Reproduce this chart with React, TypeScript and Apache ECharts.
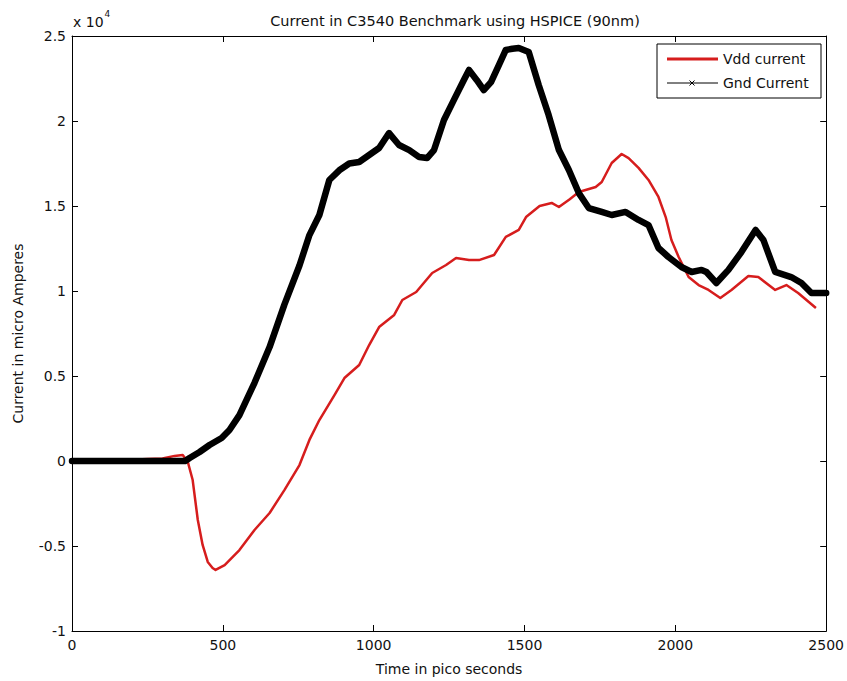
import React, { useEffect, useRef } from "react";
import * as echarts from "echarts";

// Time samples (ps) and supply currents (µA) for the C3540 benchmark
const gndTime = [0, 200, 375, 390, 423, 456, 496, 522, 555, 605, 655, 704, 754, 787, 820, 853, 886, 919, 952, 985, 1018, 1051, 1084, 1118, 1151, 1177, 1200, 1233, 1266, 1299, 1316, 1342, 1365, 1389, 1415, 1438, 1460, 1481, 1514, 1547, 1580, 1614, 1647, 1680, 1713, 1756, 1789, 1835, 1878, 1911, 1944, 1977, 2020, 2054, 2087, 2103, 2136, 2176, 2219, 2266, 2292, 2331, 2384, 2418, 2451, 2500];
const gndCurrent = [0, 0, 0, 180, 530, 940, 1350, 1820, 2700, 4600, 6700, 9200, 11500, 13290, 14470, 16530, 17100, 17500, 17590, 18000, 18410, 19290, 18590, 18290, 17880, 17820, 18290, 20060, 21240, 22410, 23000, 22400, 21820, 22290, 23290, 24180, 24250, 24290, 24060, 22120, 20350, 18290, 17120, 15760, 14880, 14650, 14470, 14650, 14180, 13880, 12530, 12000, 11410, 11120, 11240, 11120, 10470, 11240, 12290, 13590, 13000, 11120, 10820, 10470, 9880, 9880];

const vddTime = [0, 150, 200, 250, 300, 340, 367, 384, 400, 417, 433, 450, 466, 476, 506, 555, 605, 655, 704, 754, 787, 820, 870, 903, 952, 985, 1018, 1068, 1095, 1141, 1194, 1240, 1273, 1316, 1349, 1399, 1438, 1481, 1505, 1550, 1590, 1614, 1650, 1680, 1736, 1756, 1789, 1822, 1845, 1878, 1911, 1944, 1968, 1987, 2011, 2044, 2077, 2110, 2149, 2186, 2242, 2275, 2331, 2368, 2407, 2466];
const vddCurrent = [0, 0, 80, 120, 150, 300, 350, -60, -1120, -3470, -4940, -5940, -6290, -6410, -6120, -5240, -4060, -3060, -1710, -240, 1240, 2410, 3880, 4880, 5650, 6820, 7880, 8590, 9470, 9940, 11060, 11530, 11940, 11820, 11820, 12120, 13180, 13590, 14350, 15000, 15180, 14940, 15400, 15820, 16120, 16410, 17530, 18060, 17820, 17240, 16530, 15530, 14350, 13000, 12000, 10820, 10350, 10060, 9590, 10060, 10880, 10820, 10060, 10350, 9880, 9000];

const seriesNames = ["Vdd current", "Gnd Current"];
const chartTitle = "Current in C3540 Benchmark using HSPICE (90nm)";
const xLabel = "Time in pico seconds";
const yLabel = "Current in micro Amperes";

const FONT = "DejaVu Sans";
const RED = "#d61d1d";

const zip = (xs: number[], ys: number[]) => xs.map((x, i) => [x, ys[i]]);

export default function App() {
  const ref = useRef<HTMLDivElement>(null);

  useEffect(() => {
    document.body.style.margin = "0";
    const chart = echarts.init(ref.current!, null, { renderer: "svg" });

    const axisLine = { show: true, onZero: false, lineStyle: { color: "#000", width: 1 } };
    const tick = { show: true, inside: true, length: 6, lineStyle: { color: "#000" } };
    const label = { color: "#111", fontFamily: FONT, fontSize: 14 };

    chart.setOption({
      animation: false,
      backgroundColor: "#fff",
      title: {
        text: chartTitle,
        left: 450,
        top: 8,
        textAlign: "center",
        textStyle: { fontFamily: FONT, fontSize: 14.5, fontWeight: "normal", color: "#111" },
      },
      grid: { left: 72, right: 19, top: 36, bottom: 50 },
      xAxis: [
        {
          type: "value",
          min: 0,
          max: 2500,
          interval: 500,
          axisLine,
          axisTick: tick,
          splitLine: { show: false },
          axisLabel: { ...label, margin: 7, formatter: (v: number) => String(v) },
          name: xLabel,
          nameLocation: "middle",
          nameGap: 31,
          nameTextStyle: { ...label },
        },
        {
          type: "value",
          position: "top",
          min: 0,
          max: 2500,
          interval: 500,
          axisLine,
          axisTick: tick,
          splitLine: { show: false },
          axisLabel: { show: false },
        },
      ],
      yAxis: [
        {
          type: "value",
          min: -10000,
          max: 25000,
          interval: 5000,
          axisLine,
          axisTick: tick,
          splitLine: { show: false },
          axisLabel: { ...label, margin: 6, formatter: (v: number) => String(v / 10000) },
          name: yLabel,
          nameLocation: "middle",
          nameGap: 47,
          nameTextStyle: { ...label },
        },
        {
          type: "value",
          position: "right",
          min: -10000,
          max: 25000,
          interval: 5000,
          axisLine,
          axisTick: tick,
          splitLine: { show: false },
          axisLabel: { show: false },
        },
      ],
      series: [
        {
          name: seriesNames[0],
          type: "line",
          data: zip(vddTime, vddCurrent),
          showSymbol: false,
          lineStyle: { color: RED, width: 2.5, join: "round" },
          z: 2,
        },
        {
          name: seriesNames[1],
          type: "line",
          data: zip(gndTime, gndCurrent),
          showSymbol: false,
          lineStyle: { color: "#000", width: 6.5, join: "round", cap: "round" },
          z: 3,
        },
      ],
      graphic: [
        // axis exponent
        {
          type: "text",
          left: 73,
          top: 9,
          style: {
            text: "{b|x 10}{s|4}",
            rich: {
              b: { fontFamily: FONT, fontSize: 14, fill: "#111", verticalAlign: "bottom", lineHeight: 20 },
              s: { fontFamily: FONT, fontSize: 9, fill: "#111", verticalAlign: "top", lineHeight: 20, padding: [0, 0, 8, 1] },
            },
          },
        },
        // legend box
        {
          type: "rect",
          shape: { x: 657, y: 44, width: 164, height: 54 },
          style: { fill: "#fff", stroke: "#000", lineWidth: 1 },
          z: 10,
        },
        {
          type: "line",
          shape: { x1: 667, y1: 59, x2: 718, y2: 59 },
          style: { stroke: RED, lineWidth: 3 },
          z: 11,
        },
        {
          type: "line",
          shape: { x1: 667, y1: 83, x2: 718, y2: 83 },
          style: { stroke: "#000", lineWidth: 1 },
          z: 11,
        },
        {
          type: "line",
          shape: { x1: 689.5, y1: 80.5, x2: 694.5, y2: 85.5 },
          style: { stroke: "#000", lineWidth: 1 },
          z: 11,
        },
        {
          type: "line",
          shape: { x1: 689.5, y1: 85.5, x2: 694.5, y2: 80.5 },
          style: { stroke: "#000", lineWidth: 1 },
          z: 11,
        },
        {
          type: "text",
          x: 723,
          y: 59,
          style: { text: seriesNames[0], fontFamily: FONT, fontSize: 14, fill: "#111", verticalAlign: "middle" },
          z: 11,
        },
        {
          type: "text",
          x: 723,
          y: 83,
          style: { text: seriesNames[1], fontFamily: FONT, fontSize: 14, fill: "#111", verticalAlign: "middle" },
          z: 11,
        },
      ],
    });

    return () => chart.dispose();
  }, []);

  return <div ref={ref} style={{ width: 847, height: 681 }} />;
}
